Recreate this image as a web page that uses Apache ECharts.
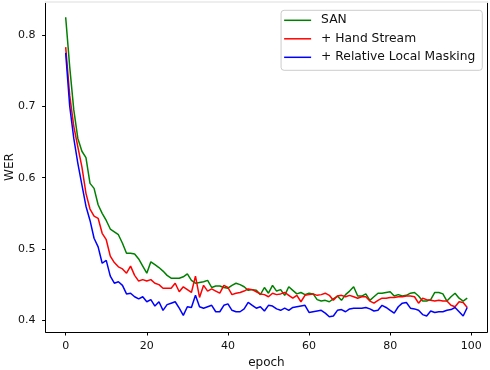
<!DOCTYPE html>
<html>
<head>
<meta charset="utf-8">
<script src="https://cdn.jsdelivr.net/npm/echarts@6/dist/echarts.min.js"></script>
<style>html,body{margin:0;padding:0;background:#fff;}#c{width:490px;height:370px;}</style>
</head>
<body>
<div id="c"></div>
<script>
const seriesNames = ['SAN', '+ Hand Stream', '+ Relative Local Masking'];
const xTicks = [0, 20, 40, 60, 80, 100];
const yTicks = [0.4, 0.5, 0.6, 0.7, 0.8];

const sanValues = [
0.825,0.755,0.695,0.655,0.637,0.628,0.592,0.585,0.562,0.550,
0.540,0.528,0.524,0.520,0.508,0.494,0.494,0.493,0.486,0.476,
0.466,0.482,0.478,0.474,0.469,0.463,0.459,0.459,0.459,0.461,
0.465,0.456,0.452,0.453,0.454,0.456,0.446,0.448,0.448,0.446,
0.445,0.449,0.452,0.450,0.447,0.442,0.443,0.442,0.436,0.446,
0.438,0.449,0.441,0.443,0.435,0.447,0.442,0.437,0.439,0.436,
0.438,0.437,0.429,0.427,0.428,0.426,0.430,0.434,0.428,0.436,
0.441,0.447,0.434,0.434,0.437,0.428,0.433,0.438,0.438,0.439,
0.440,0.434,0.436,0.434,0.435,0.438,0.439,0.434,0.427,0.427,
0.429,0.439,0.439,0.437,0.427,0.433,0.438,0.431,0.427,0.431];

const handValues = [
0.783,0.715,0.672,0.643,0.615,0.578,0.556,0.546,0.543,0.522,
0.513,0.490,0.481,0.475,0.472,0.466,0.476,0.463,0.455,0.457,
0.455,0.457,0.452,0.450,0.445,0.445,0.445,0.452,0.440,0.447,
0.443,0.439,0.462,0.432,0.449,0.441,0.444,0.441,0.438,0.449,
0.446,0.436,0.438,0.439,0.441,0.444,0.443,0.440,0.437,0.436,
0.433,0.438,0.436,0.437,0.439,0.435,0.431,0.435,0.426,0.435,
0.436,0.437,0.435,0.436,0.438,0.435,0.428,0.434,0.435,0.433,
0.435,0.433,0.431,0.433,0.433,0.427,0.424,0.428,0.431,0.431,
0.432,0.432,0.433,0.433,0.434,0.434,0.433,0.424,0.431,0.429,
0.428,0.427,0.428,0.427,0.427,0.421,0.419,0.426,0.425,0.418];

const rlmValues = [
0.775,0.700,0.655,0.620,0.590,0.560,0.540,0.515,0.503,0.480,
0.484,0.462,0.452,0.454,0.449,0.437,0.438,0.433,0.430,0.433,
0.426,0.429,0.420,0.426,0.414,0.422,0.424,0.426,0.417,0.407,
0.419,0.418,0.435,0.419,0.417,0.419,0.421,0.412,0.412,0.421,
0.423,0.414,0.412,0.412,0.416,0.425,0.421,0.417,0.419,0.413,
0.421,0.420,0.416,0.414,0.417,0.414,0.418,0.419,0.420,0.421,
0.411,0.412,0.413,0.414,0.410,0.405,0.406,0.414,0.415,0.412,
0.416,0.417,0.417,0.417,0.418,0.416,0.413,0.414,0.421,0.418,
0.414,0.410,0.419,0.424,0.425,0.417,0.416,0.414,0.408,0.406,
0.413,0.411,0.412,0.412,0.414,0.415,0.418,0.412,0.406,0.418];

const colors = ['#008000', '#ff0000', '#0000ff'];
const allValues = [sanValues, handValues, rlmValues];

const FONT = 'DejaVu Sans';
const chart = echarts.init(document.getElementById('c'), null, {renderer: 'canvas'});

function pairs(vals) { return vals.map((v, i) => [i, v]); }

chart.setOption({
  animation: false,
  backgroundColor: '#ffffff',
  grid: {left: 45.6, right: 2.7, top: 2, bottom: 38, outerBoundsMode: 'none', containLabel: false},
  legend: {
    orient: 'vertical', right: 7.7, top: 10.3,
    data: seriesNames,
    itemWidth: 27, itemHeight: 14, itemGap: 4.5,
    padding: [3, 7, 6, 2.3],
    borderColor: '#cccccc', borderWidth: 1, borderRadius: 3,
    backgroundColor: 'rgba(255,255,255,0.8)',
    itemStyle: {opacity: 0},
    lineStyle: {width: 1.5},
    textStyle: {fontFamily: FONT, fontSize: 12.3, color: '#111', padding: [0, 0, 0, 5], lineHeight: 14}
  },
  xAxis: [{
    type: 'value', min: -4.95, max: 103.95,
    name: 'epoch', nameLocation: 'middle', nameGap: 25, nameMoveOverlap: false,
    nameTextStyle: {fontFamily: FONT, fontSize: 12, color: '#111'},
    axisLine: {show: true, onZero: false, lineStyle: {color: '#000', width: 1}},
    axisTick: {show: true, inside: false, length: 3.5, customValues: xTicks, lineStyle: {color: '#000', width: 1}},
    axisLabel: {customValues: xTicks, margin: 9, fontFamily: FONT, fontSize: 11, color: '#111'},
    splitLine: {show: false}
  }, {
    type: 'value', position: 'top', min: -4.95, max: 103.95,
    axisLine: {show: true, onZero: false, lineStyle: {color: '#eeeeee', width: 2}},
    axisTick: {show: false}, axisLabel: {show: false}, splitLine: {show: false}
  }],
  yAxis: [{
    type: 'value', min: 0.3836, max: 0.8463,
    name: 'WER', nameLocation: 'middle', nameGap: 30, nameRotate: 90, nameMoveOverlap: false,
    nameTextStyle: {fontFamily: FONT, fontSize: 12, color: '#111'},
    axisLine: {show: true, onZero: false, lineStyle: {color: '#000', width: 1}},
    axisTick: {show: true, inside: false, length: 3.5, customValues: yTicks, lineStyle: {color: '#000', width: 1}},
    axisLabel: {customValues: yTicks, margin: 10, fontFamily: FONT, fontSize: 11, color: '#111',
      formatter: v => (Math.round(v * 10) / 10).toFixed(1)},
    splitLine: {show: false}
  }, {
    type: 'value', position: 'right', min: 0.3836, max: 0.8463,
    axisLine: {show: true, onZero: false, lineStyle: {color: '#000', width: 1}},
    axisTick: {show: false}, axisLabel: {show: false}, splitLine: {show: false}
  }],
  series: allValues.map((vals, k) => ({
    name: seriesNames[k], type: 'line', data: pairs(vals),
    xAxisIndex: 0, yAxisIndex: 0,
    symbol: 'none', showSymbol: false,
    lineStyle: {color: colors[k], width: 1.5},
    itemStyle: {color: colors[k]}
  }))
});
</script>
</body>
</html>
